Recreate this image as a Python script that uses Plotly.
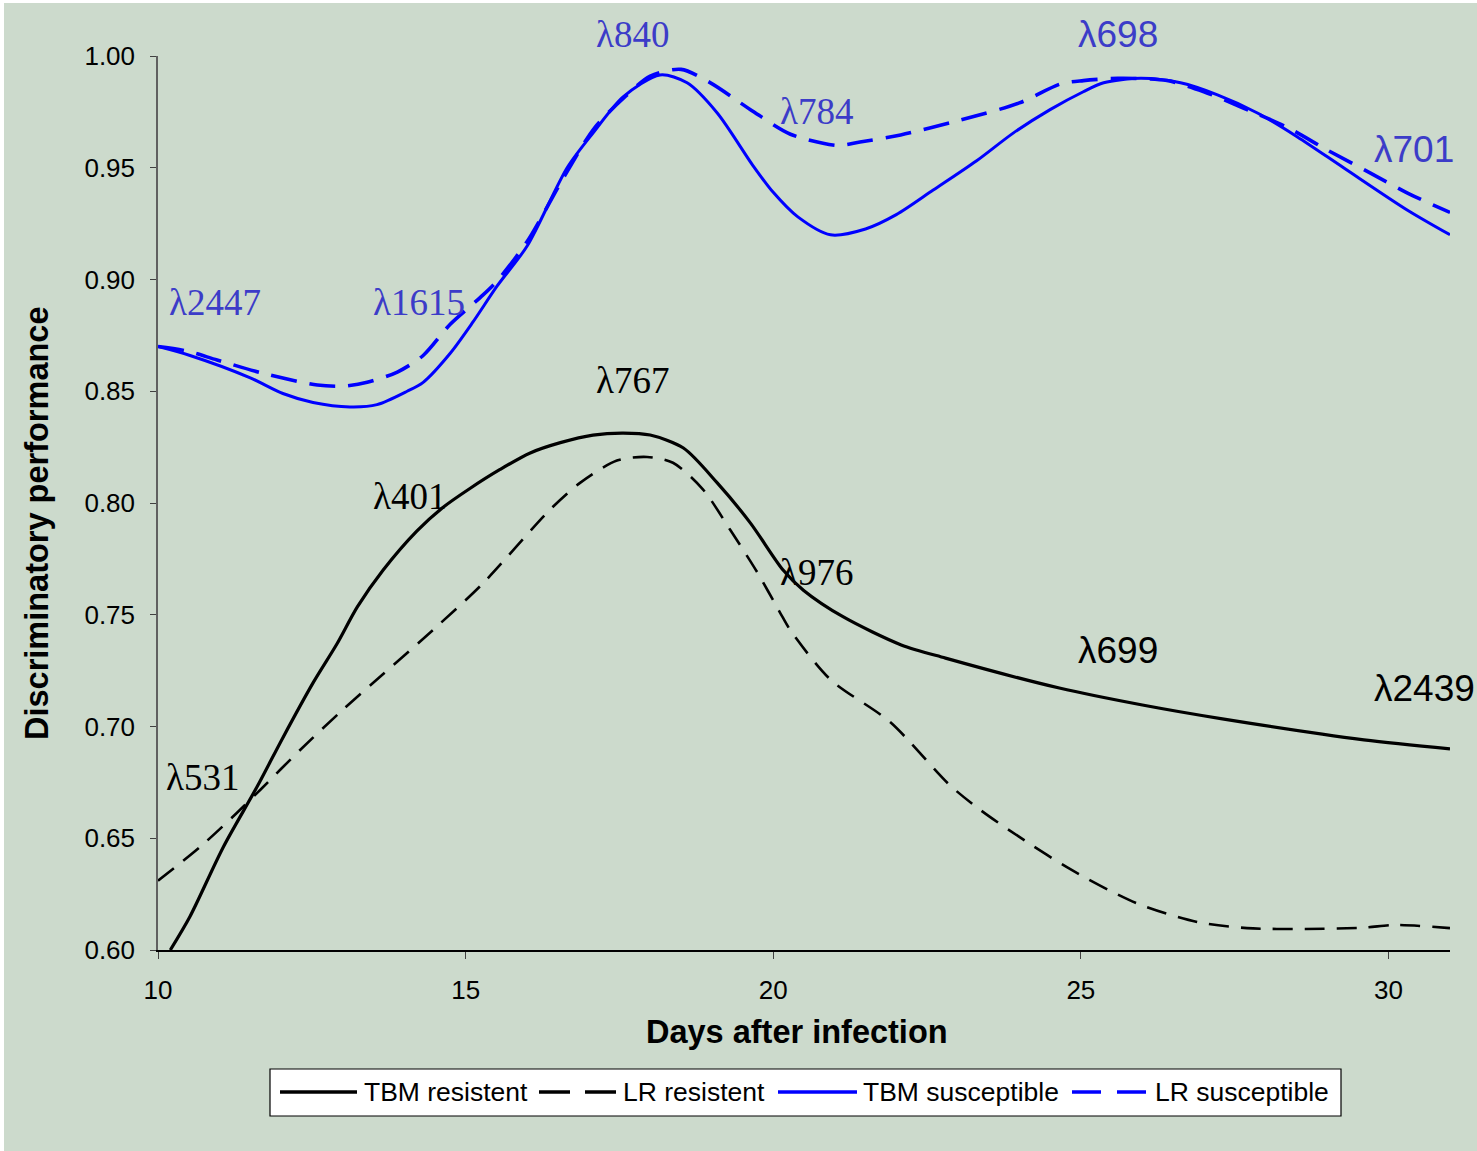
import plotly.graph_objects as go

# ---- data -------------------------------------------------------------
tbm_res_days = [10.2, 10.52, 11.06, 11.61, 12.03, 12.52, 12.91, 13.24, 13.66, 14.21, 14.63,
                15.07, 15.56, 16.05, 16.54, 17.07, 17.56, 18.0, 18.54, 19.09, 19.63, 20.16,
                20.49, 21.14, 22.08, 22.8, 24.65, 26.0, 27.3, 29.6, 31.0]
tbm_res_vals = [0.600, 0.615, 0.646, 0.673, 0.695, 0.7195, 0.737, 0.7535, 0.770, 0.7875, 0.798,
                0.8065, 0.815, 0.8224, 0.827, 0.8304, 0.8313, 0.8304, 0.8246, 0.809, 0.791, 0.770,
                0.761, 0.749, 0.7365, 0.7306, 0.7172, 0.7096, 0.7034, 0.694, 0.690]

lr_res_days = [10.0, 10.68, 11.28, 11.66, 12.31, 13.0, 13.66, 14.47, 15.28, 16.37, 16.86, 17.46,
               17.95, 18.37, 18.86, 19.3, 19.74, 20.11, 20.28, 20.93, 21.9, 22.86, 23.37, 24.0,
               24.85, 25.9, 26.9, 27.7, 28.65, 29.6, 30.1, 31.0]
lr_res_vals = [0.631, 0.646, 0.6613, 0.6716, 0.6895, 0.7074, 0.7235, 0.7432, 0.764, 0.797, 0.809,
               0.819, 0.8206, 0.818, 0.806, 0.788, 0.769, 0.751, 0.743, 0.721, 0.702, 0.674,
               0.6626, 0.6506, 0.6358, 0.621, 0.6125, 0.6098, 0.6094, 0.610, 0.6112, 0.6098]

tbm_sus_days = [10.0, 10.52, 11.5, 12.03, 12.52, 13.12, 13.56, 14.05, 14.31, 14.75, 15.12, 15.51,
                16.0, 16.65, 17.07, 17.56, 18.16, 18.6, 19.09, 19.67, 20.0, 20.4, 20.93, 21.5,
                22.0, 22.6, 23.3, 23.9, 24.5, 25.04, 25.37, 25.97, 26.62, 27.22, 27.87, 28.52,
                29.27, 30.31, 31.0]
tbm_sus_vals = [0.870, 0.866, 0.856, 0.849, 0.845, 0.843, 0.844, 0.850, 0.854, 0.867, 0.881, 0.897,
                0.915, 0.950, 0.9655, 0.9817, 0.9915, 0.988, 0.9745, 0.951, 0.939, 0.928, 0.920,
                0.9226, 0.929, 0.940, 0.953, 0.9655, 0.976, 0.984, 0.988, 0.990, 0.988, 0.9826,
                0.9745, 0.9638, 0.950, 0.931, 0.920]

lr_sus_days = [10.0, 10.47, 10.96, 11.71, 12.59, 13.01, 13.4, 13.89, 14.31, 14.75, 15.24, 15.5,
               16.0, 16.6, 17.1, 17.6, 18.0, 18.5, 18.98, 19.63, 20.28, 21.04, 21.41, 22.07,
               23.0, 24.0, 24.67, 25.04, 25.6, 26.4, 27.0, 27.64, 28.36, 29.0, 29.7, 30.36, 31.0]
lr_sus_vals = [0.870, 0.868, 0.864, 0.858, 0.8528, 0.8523, 0.854, 0.8586, 0.866, 0.880, 0.892,
               0.899, 0.917, 0.946, 0.968, 0.982, 0.991, 0.994, 0.988, 0.976, 0.965, 0.960,
               0.9615, 0.9647, 0.971, 0.979, 0.9875, 0.989, 0.990, 0.989, 0.984, 0.9767, 0.968,
               0.958, 0.9477, 0.938, 0.930]

series_names = ["TBM resistent", "LR resistent", "TBM susceptible", "LR susceptible"]

x_ticks = [10, 15, 20, 25, 30]
y_ticks = [0.60, 0.65, 0.70, 0.75, 0.80, 0.85, 0.90, 0.95, 1.00]
y_tick_text = ["0.60", "0.65", "0.70", "0.75", "0.80", "0.85", "0.90", "0.95", "1.00"]

# wavelength labels: text, day, value, group
label_text = ["λ2447", "λ1615", "λ840", "λ784", "λ698", "λ701",
              "λ767", "λ401", "λ531", "λ976", "λ699", "λ2439"]
label_day = [10.17, 13.48, 17.11, 20.10, 24.94, 29.75,
             17.11, 13.48, 10.12, 20.10, 24.94, 29.75]
label_val = [0.8895, 0.8895, 1.0094, 0.975, 1.0094, 0.958,
             0.8546, 0.8027, 0.6774, 0.7687, 0.7342, 0.717]
label_blue = [True] * 6 + [False] * 6
label_serif = [True, True, True, True, False, False,
               True, True, True, True, False, False]

# ---- styling -----------------------------------------------------------
W, H = 1477, 1151
ML, MR, MT, MB = 158, 27, 56, 201
X_RANGE = [10, 31]
Y_RANGE = [0.60, 1.00]
BG = "#ccdacc"
BLUE = "#0000ff"
LABEL_BLUE = "#3c3cc8"
SANS = "Liberation Sans, Arial, sans-serif"
SERIF = "Liberation Serif, Times New Roman, serif"

plot_w = W - ML - MR
plot_h = H - MT - MB


def px_x(p):
    return (p - ML) / plot_w


def px_y(p):
    return (H - MB - p) / plot_h


def data_x(d):
    return (d - X_RANGE[0]) / (X_RANGE[1] - X_RANGE[0])


def data_y(v):
    return (v - Y_RANGE[0]) / (Y_RANGE[1] - Y_RANGE[0])


fig = go.Figure()

trace_specs = [
    (tbm_res_days, tbm_res_vals, "black", 3.2, "solid"),
    (lr_res_days, lr_res_vals, "black", 2.6, "20px,12px"),
    (tbm_sus_days, tbm_sus_vals, BLUE, 3.0, "solid"),
    (lr_sus_days, lr_sus_vals, BLUE, 3.6, "26px,13px"),
]
for name, (xs, ys, col, w, dash) in zip(series_names, trace_specs):
    fig.add_trace(go.Scatter(
        x=xs, y=ys, name=name, mode="lines",
        line=dict(color=col, width=w, dash=dash, shape="spline", smoothing=0.8),
        showlegend=False, cliponaxis=False,
    ))

# wavelength annotations (placed in paper space so the ones above 1.00 still show)
for t, d, v, blue, serif in zip(label_text, label_day, label_val, label_blue, label_serif):
    fig.add_annotation(
        x=data_x(d), y=data_y(v), xref="paper", yref="paper", text=t, showarrow=False,
        xanchor="left", yanchor="middle", borderpad=0,
        font=dict(family=SERIF if serif else SANS, size=37,
                  color=LABEL_BLUE if blue else "black"),
    )

# axis titles
fig.add_annotation(x=px_x(797), y=px_y(1032), xref="paper", yref="paper",
                   text="<b>Days after infection</b>", showarrow=False,
                   xanchor="center", yanchor="middle",
                   font=dict(family=SANS, size=32.5, color="black"))
fig.add_annotation(x=px_x(37), y=px_y(524), xref="paper", yref="paper",
                   text="<b>Discriminatory performance</b>", showarrow=False,
                   textangle=-90, xanchor="center", yanchor="middle",
                   font=dict(family=SANS, size=32.5, color="black"))

shapes = []
# thin white frame along the top and left edges
shapes.append(dict(type="rect", xref="paper", yref="paper",
                   x0=px_x(-5), x1=px_x(W + 5), y0=px_y(3), y1=px_y(-5),
                   fillcolor="white", line=dict(width=0), layer="below"))
shapes.append(dict(type="rect", xref="paper", yref="paper",
                   x0=px_x(-5), x1=px_x(4), y0=px_y(H + 5), y1=px_y(-5),
                   fillcolor="white", line=dict(width=0), layer="below"))

# legend box
leg_y = 1092
shapes.append(dict(type="rect", xref="paper", yref="paper",
                   x0=px_x(270), x1=px_x(1341), y0=px_y(1116), y1=px_y(1069),
                   fillcolor="white", line=dict(color="black", width=1.2)))
legend_items = [
    (series_names[0], 280, 357, 363, "black", "solid"),
    (series_names[1], 539, 616, 622, "black", "31px,15px"),
    (series_names[2], 778, 857, 862, BLUE, "solid"),
    (series_names[3], 1072, 1146, 1154, BLUE, "29px,16px"),
]
for name, s0, s1, tx, col, dash in legend_items:
    shapes.append(dict(type="line", xref="paper", yref="paper",
                       x0=px_x(s0), x1=px_x(s1), y0=px_y(leg_y), y1=px_y(leg_y),
                       line=dict(color=col, width=3.5, dash=dash)))
    fig.add_annotation(x=px_x(tx), y=px_y(leg_y), xref="paper", yref="paper",
                       text=name, showarrow=False, xanchor="left", yanchor="middle",
                       borderpad=0, font=dict(family=SANS, size=26.5, color="black"))

fig.update_layout(
    width=W, height=H,
    margin=dict(l=ML, r=MR, t=MT, b=MB),
    paper_bgcolor=BG, plot_bgcolor=BG,
    shapes=shapes,
    showlegend=False,
    font=dict(family=SANS, color="black"),
)

fig.update_xaxes(
    range=X_RANGE, tickvals=x_ticks, ticktext=[str(v) for v in x_ticks],
    showgrid=False, zeroline=False,
    showline=True, linecolor="black", linewidth=1.5,
    ticks="outside", ticklen=7, tickwidth=1.2, tickcolor="#404040",
    tickfont=dict(family=SANS, size=26, color="black"),
    ticklabelstandoff=9,
)
fig.update_yaxes(
    range=Y_RANGE, tickvals=y_ticks, ticktext=y_tick_text,
    showgrid=False, zeroline=False,
    showline=True, linecolor="#606060", linewidth=1.5,
    ticks="outside", ticklen=6, tickwidth=1.2, tickcolor="#404040",
    tickfont=dict(family=SANS, size=26, color="black"),
    ticklabelstandoff=10,
)

fig.write_html("out.html")
